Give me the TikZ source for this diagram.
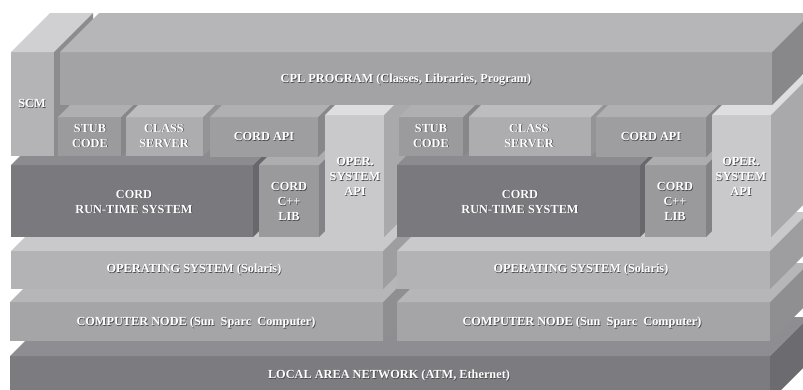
\documentclass[tikz,border=0pt]{standalone}
\usepackage{fontspec}
\setmainfont{Liberation Serif}
\usetikzlibrary{calc}

% face colours: F = front, T = top, S = right side
\definecolor{lanF}{HTML}{7C7C80}\definecolor{lanT}{HTML}{8E8E92}\definecolor{lanS}{HTML}{6C6C70}
\definecolor{nodF}{HTML}{A5A5A8}\definecolor{nodT}{HTML}{B6B6B9}\definecolor{nodS}{HTML}{8F8F92}
\definecolor{ossF}{HTML}{B3B3B6}\definecolor{ossT}{HTML}{C9C9CB}\definecolor{ossS}{HTML}{9E9EA1}
\definecolor{apoF}{HTML}{C9C9CC}\definecolor{apoT}{HTML}{DEDEE0}\definecolor{apoS}{HTML}{A9A9AC}
\definecolor{rtsF}{HTML}{7A7A7E}\definecolor{rtsT}{HTML}{8C8C90}\definecolor{rtsS}{HTML}{68686C}
\definecolor{libF}{HTML}{9A9A9D}\definecolor{libT}{HTML}{ADADB0}\definecolor{libS}{HTML}{838387}
\definecolor{stbF}{HTML}{9B9B9E}\definecolor{stbT}{HTML}{AFAFB2}\definecolor{stbS}{HTML}{87878A}
\definecolor{clsF}{HTML}{ADADB0}\definecolor{clsT}{HTML}{BDBDC0}\definecolor{clsS}{HTML}{949497}
\definecolor{capF}{HTML}{9E9EA1}\definecolor{capT}{HTML}{B0B0B3}\definecolor{capS}{HTML}{88888B}
\definecolor{scmF}{HTML}{B4B4B7}\definecolor{scmT}{HTML}{D0D0D2}\definecolor{scmS}{HTML}{8C8C90}
\definecolor{cplF}{HTML}{A3A3A6}\definecolor{cplT}{HTML}{B6B6B9}\definecolor{cplS}{HTML}{88888B}
\definecolor{txtshadow}{HTML}{4A4A4E}

% a box seen in oblique view: front rectangle (x1,y1)-(x2,y2), depth 39
\newcommand\layerbox[5]{%
  \fill[#5F] (#1,#2) rectangle (#3,#4);
  \fill[#5T] (#1,#2) -- (#3,#2) -- ++(39,-39) -- ++({#1-#3},0) -- cycle;
  \fill[#5S] (#3,#2) -- (#3,#4) -- ++(39,-39) -- ++(0,{#2-#4}) -- cycle;
}
% embossed white lettering
\newcommand\emb[1]{\leavevmode\rlap{\hspace{0.7pt}\raisebox{-0.7pt}{\textcolor{txtshadow}{#1}}}#1}

\tikzset{lbl/.style={text=white, font=\bfseries\fontsize{12.3}{15}\selectfont,
  align=center, inner sep=0pt}}

\begin{document}
\begin{tikzpicture}[x=1pt,y=-1pt]
\useasboundingbox (0,0) rectangle (803,389);
\clip (0,0) rectangle (803,389);
\fill[white] (0,0) rectangle (803,389);

% network and hardware layers
\layerbox{10}{356}{770}{401}{lan}
\layerbox{10}{302}{383}{341}{nod}
\layerbox{397}{302}{770}{341}{nod}
\layerbox{11}{251}{383}{289}{oss}
\layerbox{397}{251}{770}{289}{oss}

% left node software
\layerbox{11}{165}{253}{237}{rts}
\layerbox{259}{165}{319}{237}{lib}
\layerbox{11}{52}{54}{156}{scm}
\layerbox{58}{117}{121}{156}{stb}
\layerbox{126}{117}{203}{156}{cls}
\layerbox{210}{117}{318}{157}{cap}
\layerbox{325}{115}{384}{237}{apo}

% right node software
\layerbox{397}{165}{640}{237}{rts}
\layerbox{645}{165}{706}{237}{lib}
\layerbox{399}{117}{463}{156}{stb}
\layerbox{469}{117}{591}{156}{cls}
\layerbox{596}{117}{706}{157}{cap}
\layerbox{712}{115}{771}{237}{apo}

% application layer
\layerbox{60}{52}{772}{105}{cpl}

% labels
\node[lbl] (scm) at (32,104) {\emb{SCM}};
\node[lbl] (cpl) at (406,80) {\emb{CPL PROGRAM (Classes, Libraries, Program)}};
\node[lbl] (stubL) at (90,136) {\emb{STUB}\\\emb{CODE}};
\node[lbl] (classL) at (164,136) {\emb{CLASS}\\\emb{SERVER}};
\node[lbl] (apiL) at (264,137) {\emb{CORD API}};
\node[lbl] (osapiL) at (355,177) {\emb{OPER.}\\\emb{SYSTEM}\\\emb{API}};
\node[lbl] (rtL) at (134,202) {\emb{CORD}\\\emb{RUN-TIME SYSTEM}};
\node[lbl] (libL) at (289,202) {\emb{CORD}\\\emb{C++}\\\emb{LIB}};
\node[lbl] (osL) at (194,270) {\emb{OPERATING SYSTEM (Solaris)}};
\node[lbl] (nodeL) at (196,323) {\emb{COMPUTER NODE (Sun\ \ Sparc\ \ Computer)}};
\node[lbl] (stubR) at (431,136) {\emb{STUB}\\\emb{CODE}};
\node[lbl] (classR) at (529,136) {\emb{CLASS}\\\emb{SERVER}};
\node[lbl] (apiR) at (651,137) {\emb{CORD API}};
\node[lbl] (osapiR) at (741,177) {\emb{OPER.}\\\emb{SYSTEM}\\\emb{API}};
\node[lbl] (rtR) at (520,202) {\emb{CORD}\\\emb{RUN-TIME SYSTEM}};
\node[lbl] (libR) at (675,202) {\emb{CORD}\\\emb{C++}\\\emb{LIB}};
\node[lbl] (osR) at (581,270) {\emb{OPERATING SYSTEM (Solaris)}};
\node[lbl] (nodeR) at (582,323) {\emb{COMPUTER NODE (Sun\ \ Sparc\ \ Computer)}};
\node[lbl] (lan) at (389,376) {\emb{LOCAL AREA NETWORK (ATM, Ethernet)}};
\end{tikzpicture}
\end{document}
